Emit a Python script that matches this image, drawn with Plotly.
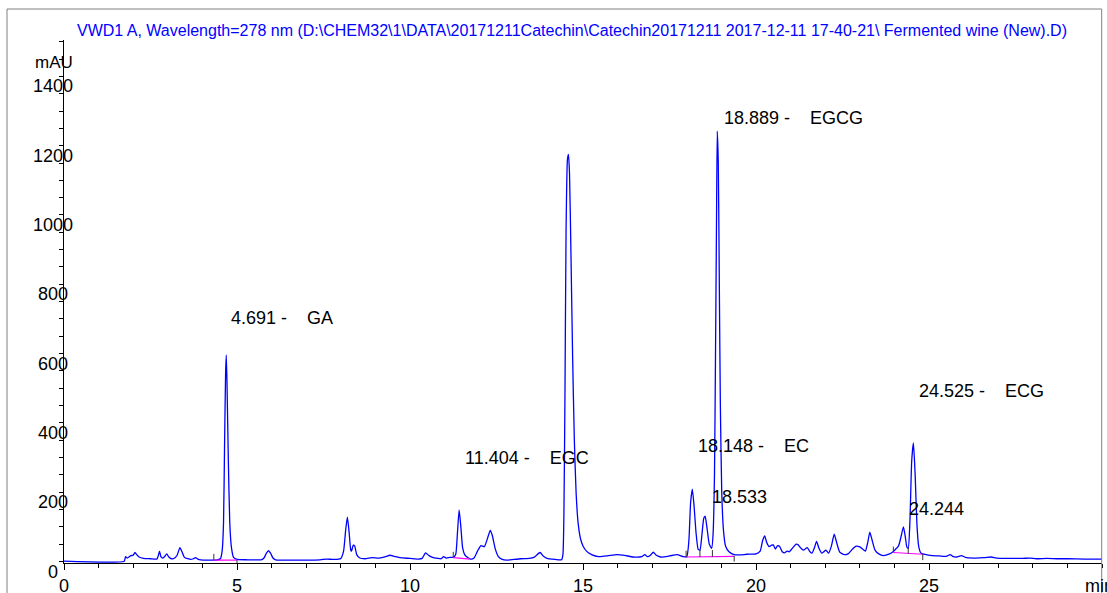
import plotly.graph_objects as go

# ---- chromatogram signal (time in min, absorbance in mAU) ----
time_min = [
    0.00, 1.74, 1.78, 1.83, 1.88, 1.93, 2.00, 2.05, 2.10, 2.17, 2.30, 2.50, 2.68, 2.72, 2.76, 2.80,
    2.86, 2.92, 2.97, 3.03, 3.10, 3.20, 3.27, 3.35, 3.41, 3.48, 3.58, 3.66, 3.74, 3.80, 3.87, 3.95,
    4.20, 4.40, 4.52, 4.57, 4.61, 4.64, 4.67, 4.69, 4.71, 4.75, 4.79, 4.84, 4.90, 5.00, 5.30, 5.70,
    5.78, 5.85, 5.91, 5.97, 6.04, 6.12, 6.50, 7.00, 7.40, 7.60, 7.80, 8.00, 8.08, 8.14, 8.19, 8.24,
    8.29, 8.31, 8.36, 8.40, 8.46, 8.55, 8.70, 8.90, 9.10, 9.30, 9.42, 9.55, 9.71, 10.00, 10.25, 10.35,
    10.45, 10.55, 10.65, 10.80, 10.90, 10.97, 11.05, 11.15, 11.25, 11.32, 11.37, 11.42, 11.47, 11.52,
    11.58, 11.66, 11.75, 11.85, 11.95, 12.05, 12.15, 12.25, 12.32, 12.38, 12.46, 12.55, 12.65, 12.80,
    13.00, 13.20, 13.45, 13.58, 13.70, 13.76, 13.85, 13.96, 14.20, 14.38, 14.42, 14.45, 14.48, 14.51,
    14.55, 14.58, 14.61, 14.65, 14.70, 14.75, 14.80, 14.86, 14.93, 15.00, 15.10, 15.25, 15.45, 15.70,
    15.97, 16.20, 16.45, 16.70, 16.79, 16.86, 16.95, 17.03, 17.12, 17.25, 17.50, 17.72, 17.90, 18.00,
    18.06, 18.11, 18.16, 18.21, 18.27, 18.33, 18.38, 18.44, 18.49, 18.53, 18.58, 18.65, 18.72, 18.76,
    18.80, 18.83, 18.86, 18.88, 18.91, 18.94, 18.97, 19.01, 19.06, 19.12, 19.22, 19.36, 19.55, 19.73,
    20.00, 20.12, 20.19, 20.25, 20.31, 20.38, 20.45, 20.50, 20.56, 20.62, 20.68, 20.76, 20.82, 20.90,
    20.96, 21.05, 21.16, 21.22, 21.30, 21.37, 21.48, 21.56, 21.62, 21.69, 21.75, 21.82, 21.90, 21.96,
    22.02, 22.10, 22.18, 22.26, 22.33, 22.42, 22.55, 22.66, 22.78, 22.88, 23.00, 23.08, 23.16, 23.23,
    23.29, 23.36, 23.44, 23.55, 23.68, 23.80, 23.90, 24.00, 24.12, 24.20, 24.26, 24.31, 24.36, 24.40,
    24.45, 24.50, 24.55, 24.60, 24.65, 24.70, 24.76, 24.85, 24.95, 25.10, 25.30, 25.50, 25.61, 25.70,
    25.80, 25.94, 26.05, 26.30, 26.60, 26.80, 26.95, 27.30, 27.70, 27.92, 28.10, 28.40, 28.70, 29.00,
    29.50, 30.00,
]
signal_mau = [
    1, 1, 14, 10, 13, 17, 18, 26, 20, 13, 9, 8, 7, 15, 30, 14,
    10, 16, 22, 13, 8, 10, 18, 40, 28, 12, 8, 6, 8, 11, 7, 5,
    4, 4, 8, 30, 110, 330, 540, 596, 520, 290, 115, 40, 12, 6, 5, 5,
    10, 24, 31, 24, 10, 5, 4, 4, 5, 7, 6, 9, 30, 90, 128, 85,
    32, 30, 47, 45, 20, 10, 8, 11, 10, 14, 18, 15, 11, 9, 7, 9,
    25, 17, 12, 9, 8, 14, 10, 12, 12, 20, 80, 149, 100, 40,
    20, 12, 7, 10, 30, 46, 43, 70, 90, 75, 38, 15, 7, 4,
    6, 8, 9, 12, 22, 26, 16, 9, 6, 5, 20, 150, 500, 950,
    1160, 1175, 1120, 900, 590, 350, 200, 110, 65, 45, 30, 20, 14, 16,
    20, 18, 13, 14, 20, 14, 18, 27, 18, 13, 16, 20, 14, 14,
    60, 170, 209, 160, 80, 35, 33, 80, 125, 131, 100, 50, 38, 80,
    250, 600, 1000, 1242, 1150, 800, 450, 200, 90, 45, 28, 20, 19, 21,
    22, 30, 60, 74, 55, 43, 47, 48, 36, 45, 44, 28, 25, 30,
    28, 38, 50, 48, 38, 33, 40, 28, 24, 40, 58, 38, 24, 28,
    33, 24, 45, 79, 55, 27, 20, 22, 35, 44, 42, 36, 30, 55,
    85, 60, 33, 22, 17, 20, 24, 32, 45, 75, 100, 75, 42, 38,
    120, 290, 342, 250, 110, 45, 25, 21, 19, 17, 16, 15, 20, 14,
    13, 17, 12, 10, 11, 13, 10, 9, 9, 10, 8, 9, 8, 8,
    7, 7,
]

# ---- integration baselines (magenta) ----
base_t0 = [4.33, 11.25, 17.98, 23.97]
base_y0 = [4, 11, 13, 26]
base_t1 = [5.00, 11.74, 19.37, 24.82]
base_y1 = [4, 7, 15, 21]

# ---- integration event marks (short black ticks) ----
mark_t = [4.33, 5.00, 11.25, 17.98, 18.38, 18.74, 19.37, 23.97, 24.40, 24.82]
mark_lo = [4, -20, 12, 12, 13, 13, 0, 27, 22, 4]
mark_hi = [22, 4, 28, 31, 35, 33, 16, 43, 39, 22]

# ---- peak labels ----
label_text = ["4.691 -    GA", "11.404 -    EGC", "18.889 -    EGCG", "18.148 -    EC",
              "18.533", "24.525 -    ECG", "24.244"]
label_t = [4.77, 11.53, 19.02, 18.27, 18.67, 24.65, 24.36]
label_mau = [703, 299, 1280, 333, 186, 492, 152]

# ---- axis ticks ----
y_tick_vals = [0, 200, 400, 600, 800, 1000, 1200, 1400]
y_tick_text = ["0", "200", "400", "600", "800", "1000", "1200", "1400"]
x_tick_vals = [0, 5, 10, 15, 20, 25]
x_tick_text = ["0", "5", "10", "15", "20", "25"]

title_text = ("VWD1 A, Wavelength=278 nm (D:\\CHEM32\\1\\DATA\\20171211Catechin\\Catechin20171211 "
              "2017-12-11 17-40-21\\ Fermented wine (New).D)")

FONT = "Liberation Sans, Arial, sans-serif"
W, H = 1107, 593
ML, MR, MT, MB = 64, 5, 40, 30
PW = W - ML - MR
PH = H - MT - MB


def px_x(px):
    return (px - ML) / PW


def px_y(py):
    return (H - MB - py) / PH


fig = go.Figure()

fig.add_trace(go.Scatter(x=time_min, y=signal_mau, mode="lines",
                         line=dict(color="#0000ff", width=1.3, shape="spline", smoothing=0.5),
                         hoverinfo="skip", showlegend=False))

for t0, y0, t1, y1 in zip(base_t0, base_y0, base_t1, base_y1):
    fig.add_trace(go.Scatter(x=[t0, t1], y=[y0, y1], mode="lines",
                             line=dict(color="#ff00ff", width=1.2),
                             hoverinfo="skip", showlegend=False))

for t, lo, hi in zip(mark_t, mark_lo, mark_hi):
    fig.add_trace(go.Scatter(x=[t, t], y=[lo, hi], mode="lines",
                             line=dict(color="#333333", width=1),
                             hoverinfo="skip", showlegend=False))

annotations = []
for txt, t, v in zip(label_text, label_t, label_mau):
    annotations.append(dict(x=t, y=v, xref="x", yref="y", text=txt.replace(" ", "\u00a0"),
                            showarrow=False, xanchor="left", yanchor="middle",
                            font=dict(family=FONT, size=18, color="black")))

for v, txt in zip(y_tick_vals, y_tick_text):
    annotations.append(dict(x=px_x(53), y=v, xref="paper", yref="y", text=txt,
                            showarrow=False, xanchor="center", yanchor="middle", yshift=-10,
                            font=dict(family=FONT, size=18, color="black")))

annotations.append(dict(x=px_x(75), y=px_y(31), xref="paper", yref="paper", text=title_text,
                        showarrow=False, xanchor="left", yanchor="middle",
                        font=dict(family=FONT, size=16, color="#0000ff")))
annotations.append(dict(x=px_x(53.5), y=px_y(62.5), xref="paper", yref="paper", text="mAU",
                        showarrow=False, xanchor="center", yanchor="middle",
                        font=dict(family=FONT, size=17, color="black")))
annotations.append(dict(x=px_x(1083), y=px_y(586), xref="paper", yref="paper", text="min",
                        showarrow=False, xanchor="left", yanchor="middle",
                        font=dict(family=FONT, size=18, color="black")))

frame = dict(color="#808080", width=1)
shapes = [
    dict(type="line", xref="paper", yref="paper", x0=px_x(7), x1=px_x(7), y0=px_y(600), y1=px_y(9), line=frame),
    dict(type="line", xref="paper", yref="paper", x0=px_x(7), x1=px_x(1101.7), y0=px_y(9), y1=px_y(9), line=frame),
    dict(type="line", xref="paper", yref="paper", x0=px_x(1101.7), x1=px_x(1101.7), y0=px_y(600), y1=px_y(9), line=frame),
]

fig.update_layout(
    width=W, height=H,
    margin=dict(l=ML, r=MR, t=MT, b=MB, pad=0, autoexpand=False),
    paper_bgcolor="white", plot_bgcolor="white",
    showlegend=False,
    annotations=annotations,
    shapes=shapes,
    xaxis=dict(range=[0, 30], showgrid=False, zeroline=False, showline=True, linecolor="black",
               linewidth=1, ticks="outside", ticklen=6, tickcolor="black", tickwidth=1,
               tickvals=x_tick_vals, ticktext=x_tick_text,
               tickfont=dict(family=FONT, size=18, color="black"),
               minor=dict(dtick=1, tick0=0, ticks="outside", ticklen=4, tickcolor="black", showgrid=False)),
    yaxis=dict(range=[-4.3, 1505], showgrid=False, zeroline=False, showline=True, linecolor="black",
               linewidth=1, ticks="outside", ticklen=4, tickcolor="black", tickwidth=1,
               tickvals=y_tick_vals, showticklabels=False,
               minor=dict(dtick=50, tick0=0, ticks="outside", ticklen=4, tickcolor="black", showgrid=False)),
)

fig.write_html("out.html")
